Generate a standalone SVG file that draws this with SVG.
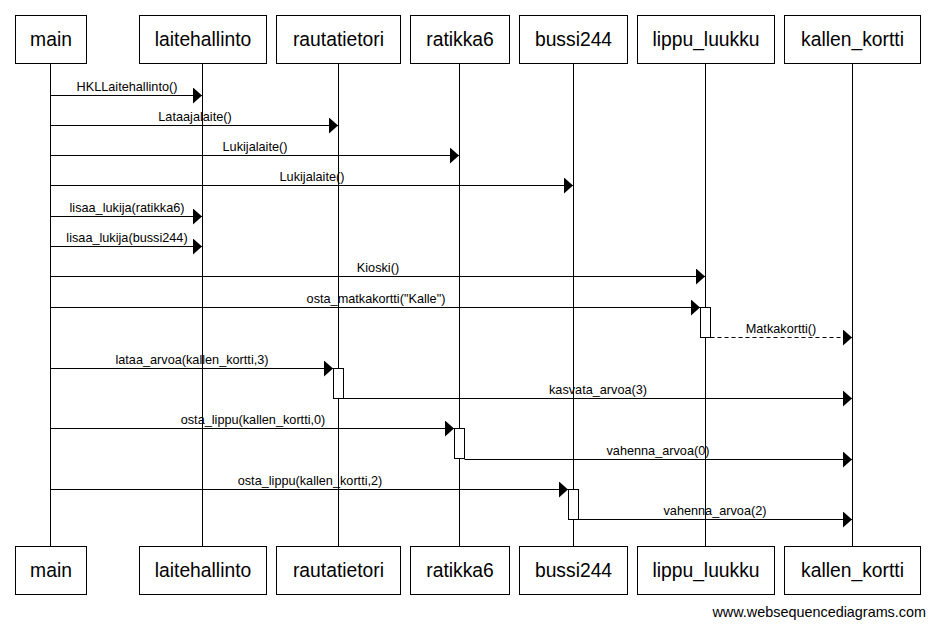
<svg xmlns="http://www.w3.org/2000/svg" width="934" height="629" viewBox="0 0 934 629">
<defs>
<style>
.box{fill:#fff;stroke:#000;stroke-width:1}
.name{font-family:"Liberation Sans",Arial,sans-serif;font-size:19.3px;fill:#000;text-anchor:middle}
.life{stroke:#000;stroke-width:1;fill:none}
.msg{stroke:#000;stroke-width:1;fill:none}
.dash{stroke-dasharray:4,3}
.lbl{font-family:"Liberation Sans",Arial,sans-serif;font-size:12.7px;fill:#000;text-anchor:middle}
.act{fill:#fff;stroke:#000;stroke-width:1}
.foot{font-family:"Liberation Sans",Arial,sans-serif;font-size:14.4px;fill:#000;text-anchor:end}
</style>
<marker id="ah" viewBox="0 0 9 16" refX="9" refY="8" markerWidth="9" markerHeight="16" markerUnits="userSpaceOnUse" orient="auto">
<path d="M0,0 L9,8 L0,16 Z" fill="#000"/>
</marker>
</defs>
<rect width="934" height="629" fill="#fff"/>
<g id="lifelines">
<line class="life" x1="50.5" y1="63.5" x2="50.5" y2="546.5"/>
<line class="life" x1="202.5" y1="63.5" x2="202.5" y2="546.5"/>
<line class="life" x1="338.5" y1="63.5" x2="338.5" y2="546.5"/>
<line class="life" x1="459.5" y1="63.5" x2="459.5" y2="546.5"/>
<line class="life" x1="573.5" y1="63.5" x2="573.5" y2="546.5"/>
<line class="life" x1="705.5" y1="63.5" x2="705.5" y2="546.5"/>
<line class="life" x1="852.5" y1="63.5" x2="852.5" y2="546.5"/>
</g>
<g id="main">
<rect class="box" x="15.5" y="15.5" width="71" height="48"/>
<text class="name" x="51" y="46">main</text>
<rect class="box" x="15.5" y="546.5" width="71" height="48"/>
<text class="name" x="51" y="577">main</text>
</g>
<g id="laitehallinto">
<rect class="box" x="139.5" y="15.5" width="127" height="48"/>
<text class="name" x="203" y="46">laitehallinto</text>
<rect class="box" x="139.5" y="546.5" width="127" height="48"/>
<text class="name" x="203" y="577">laitehallinto</text>
</g>
<g id="rautatietori">
<rect class="box" x="276.5" y="15.5" width="124" height="48"/>
<text class="name" x="338.5" y="46">rautatietori</text>
<rect class="box" x="276.5" y="546.5" width="124" height="48"/>
<text class="name" x="338.5" y="577">rautatietori</text>
</g>
<g id="ratikka6">
<rect class="box" x="410.5" y="15.5" width="99" height="48"/>
<text class="name" x="460" y="46">ratikka6</text>
<rect class="box" x="410.5" y="546.5" width="99" height="48"/>
<text class="name" x="460" y="577">ratikka6</text>
</g>
<g id="bussi244">
<rect class="box" x="519.5" y="15.5" width="108" height="48"/>
<text class="name" x="573.5" y="46">bussi244</text>
<rect class="box" x="519.5" y="546.5" width="108" height="48"/>
<text class="name" x="573.5" y="577">bussi244</text>
</g>
<g id="lippu_luukku">
<rect class="box" x="637.5" y="15.5" width="137" height="48"/>
<text class="name" x="706" y="46">lippu_luukku</text>
<rect class="box" x="637.5" y="546.5" width="137" height="48"/>
<text class="name" x="706" y="577">lippu_luukku</text>
</g>
<g id="kallen_kortti">
<rect class="box" x="784.5" y="15.5" width="136" height="48"/>
<text class="name" x="852.5" y="46">kallen_kortti</text>
<rect class="box" x="784.5" y="546.5" width="136" height="48"/>
<text class="name" x="852.5" y="577">kallen_kortti</text>
</g>
<g id="connectors">
<line class="msg" x1="50.5" y1="95.5" x2="202" y2="95.5" marker-end="url(#ah)"/>
<text class="lbl" x="127" y="91">HKLLaitehallinto()</text>
<line class="msg" x1="50.5" y1="125.5" x2="338" y2="125.5" marker-end="url(#ah)"/>
<text class="lbl" x="195" y="121">Lataajalaite()</text>
<line class="msg" x1="50.5" y1="155.5" x2="459" y2="155.5" marker-end="url(#ah)"/>
<text class="lbl" x="255" y="151">Lukijalaite()</text>
<line class="msg" x1="50.5" y1="185.5" x2="573" y2="185.5" marker-end="url(#ah)"/>
<text class="lbl" x="312" y="181">Lukijalaite()</text>
<line class="msg" x1="50.5" y1="216.5" x2="202" y2="216.5" marker-end="url(#ah)"/>
<text class="lbl" x="127" y="212">lisaa_lukija(ratikka6)</text>
<line class="msg" x1="50.5" y1="246.5" x2="202" y2="246.5" marker-end="url(#ah)"/>
<text class="lbl" x="127" y="242">lisaa_lukija(bussi244)</text>
<line class="msg" x1="50.5" y1="276.5" x2="705" y2="276.5" marker-end="url(#ah)"/>
<text class="lbl" x="378" y="272">Kioski()</text>
<line class="msg" x1="50.5" y1="307.5" x2="700" y2="307.5" marker-end="url(#ah)"/>
<text class="lbl" x="376" y="303">osta_matkakortti("Kalle")</text>
<line class="msg dash" x1="710.5" y1="337.5" x2="852" y2="337.5" marker-end="url(#ah)"/>
<text class="lbl" x="781" y="333">Matkakortti()</text>
<line class="msg" x1="50.5" y1="368.5" x2="333" y2="368.5" marker-end="url(#ah)"/>
<text class="lbl" x="192" y="364">lataa_arvoa(kallen_kortti,3)</text>
<line class="msg" x1="343.5" y1="398.5" x2="852" y2="398.5" marker-end="url(#ah)"/>
<text class="lbl" x="598" y="394">kasvata_arvoa(3)</text>
<line class="msg" x1="50.5" y1="428.5" x2="454" y2="428.5" marker-end="url(#ah)"/>
<text class="lbl" x="253" y="424">osta_lippu(kallen_kortti,0)</text>
<line class="msg" x1="464.5" y1="459.5" x2="852" y2="459.5" marker-end="url(#ah)"/>
<text class="lbl" x="658" y="455">vahenna_arvoa(0)</text>
<line class="msg" x1="50.5" y1="489.5" x2="568" y2="489.5" marker-end="url(#ah)"/>
<text class="lbl" x="310" y="485">osta_lippu(kallen_kortti,2)</text>
<line class="msg" x1="578.5" y1="519.5" x2="852" y2="519.5" marker-end="url(#ah)"/>
<text class="lbl" x="715" y="515">vahenna_arvoa(2)</text>
</g>
<g id="activations">
<rect class="act" x="700.5" y="307.5" width="10" height="30"/>
<rect class="act" x="333.5" y="368.5" width="10" height="30"/>
<rect class="act" x="454.5" y="428.5" width="10" height="30"/>
<rect class="act" x="568.5" y="489.5" width="10" height="30"/>
</g>
<text class="foot" x="926" y="617">www.websequencediagrams.com</text>
</svg>
